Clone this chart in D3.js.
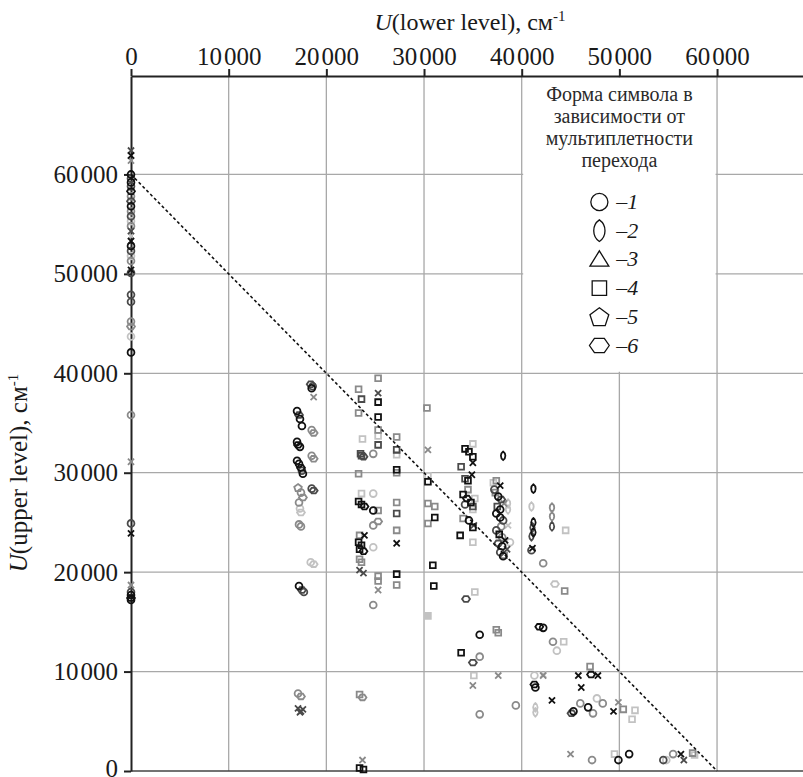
<!DOCTYPE html>
<html>
<head>
<meta charset="utf-8">
<script src="https://cdn.jsdelivr.net/npm/d3@7"></script>
<style>
  body { margin: 0; background: #fff; }
  svg text { font-family: "Liberation Serif", "DejaVu Serif", serif; fill: #1a1a1a; }
</style>
</head>
<body>
<div id="chart"></div>
<script>
const width = 803;
const height = 777;

// tick values of both axes (cm^-1)
const xTicks = [0, 10000, 20000, 30000, 40000, 50000, 60000];
const yTicks = [0, 10000, 20000, 30000, 40000, 50000, 60000];

// legend: symbol shape by multiplicity of the transition
const legendTitle = ["Форма символа в", "зависимости от", "мультиплетности", "перехода"];
const legendShapes = ["c", "e", "t", "s", "p", "h"];
const legendLabels = ["1", "2", "3", "4", "5", "6"];

// points: [lower level, upper level, shape]
// c circle, e ellipse, t triangle, s square, S filled square, p pentagon, h hexagon, x cross
const blackPoints = [
  [0,61900,"x"],[0,60000,"c"],[0,59200,"c"],[0,58300,"h"],[0,56800,"c"],[0,53300,"x"],[0,52800,"c"],
  [0,50400,"x"],[0,42100,"c"],[0,23900,"x"],[0,17700,"c"],[0,17400,"h"],[0,17200,"c"],
  [18500,38500,"c"],[17000,36200,"c"],[17300,35400,"c"],[17500,34700,"c"],[17000,33100,"c"],[17100,32800,"h"],
  [17300,32600,"c"],[17000,31200,"c"],[17200,30900,"c"],[17400,30500,"h"],[17600,29900,"c"],[17200,18600,"c"],
  [25300,37100,"s"],[25300,35600,"s"],[27200,30300,"s"],[23300,27100,"s"],[23600,26800,"s"],[23900,26600,"h"],
  [24800,26200,"c"],[27200,22900,"x"],[23900,23700,"x"],[23300,23000,"s"],[23600,22700,"s"],[23400,22300,"s"],
  [23800,22100,"h"],[27200,19800,"s"],[23400,300,"s"],[23800,150,"s"],
  [30400,29100,"s"],[31100,25500,"s"],[30900,20700,"s"],[31000,18600,"s"],
  [34200,32400,"s"],[34600,32100,"s"],[35000,31600,"s"],[35000,31000,"x"],[34900,29800,"x"],[34500,29200,"s"],
  [34000,27800,"s"],[34400,27400,"h"],[34800,27000,"s"],[34600,25200,"c"],[35000,24500,"s"],[33700,23700,"s"],
  [35700,13700,"c"],[33800,11900,"s"],
  [38100,31700,"e"],[37800,28700,"x"],[37600,27600,"c"],[37800,26300,"c"],[37400,25900,"c"],[37800,25500,"c"],
  [37700,23800,"s"],[38300,23200,"x"],[38000,22600,"c"],[38100,21600,"c"],
  [41200,28400,"e"],[41200,25000,"e"],[41200,24000,"e"],[41100,22400,"x"],[41800,14500,"h"],[42200,14400,"c"],
  [41300,8700,"h"],[41400,8400,"c"],
  [45800,9600,"x"],[47100,9700,"h"],[47800,9600,"x"],[46100,8400,"x"],[43100,7100,"x"],[46800,6400,"c"],
  [49400,6000,"x"],[49900,1100,"c"],[51000,1700,"c"],[56300,1700,"x"],[45300,6000,"c"]
];
const darkPoints = [
  [0,62400,"x"],[0,59600,"c"],[0,58800,"c"],[0,57300,"h"],[0,55800,"c"],[0,54300,"x"],[0,52300,"c"],
  [0,50100,"c"],[0,47900,"c"],[0,47200,"c"],[0,24900,"c"],[0,18000,"c"],
  [18400,38900,"h"],[18600,38700,"c"],[17200,35800,"h"],[17500,30200,"c"],[18500,28400,"c"],[18700,28200,"h"],
  [17500,18200,"h"],[17700,18000,"c"],[17100,6300,"x"],[17400,6000,"x"],[17600,6200,"x"],[17300,5900,"x"],
  [23600,37400,"s"],[25300,38000,"x"],[25300,32800,"s"],[23500,31900,"s"],[23800,31600,"h"],[23600,31700,"s"],
  [27200,32300,"s"],[27200,25900,"s"],[23400,20200,"x"],[23800,19900,"x"],
  [33800,30600,"s"],[34200,29400,"s"],[34200,26800,"c"],[35000,26600,"s"],[35100,24700,"x"],[34300,17300,"h"],
  [35000,10900,"h"],
  [37900,27300,"h"],[37500,26600,"s"],[38100,25200,"c"],[37400,24200,"c"],[37600,22900,"h"],[38500,22300,"x"],
  [37800,22000,"c"],[37200,28300,"c"],
  [41100,24500,"e"],[41000,23600,"e"],[43100,24600,"e"],[41000,22200,"c"],
  [45100,5800,"h"],[54500,1100,"c"],[56600,1100,"x"]
];
const midPoints = [
  [0,61400,"x"],[0,57800,"c"],[0,56300,"c"],[0,54800,"c"],[0,51300,"c"],[0,45200,"c"],[0,44700,"h"],
  [0,35800,"c"],[0,31100,"x"],[0,18700,"x"],
  [18700,37600,"x"],[18500,34300,"c"],[18700,34000,"h"],[18500,31700,"c"],[18700,31400,"h"],[17100,28500,"p"],
  [17400,28000,"c"],[17600,27500,"h"],[17200,27000,"c"],[17200,24800,"c"],[17400,24600,"c"],[17100,7800,"c"],
  [17400,7500,"h"],
  [23300,38400,"s"],[23300,36000,"s"],[25300,39500,"s"],[25300,34300,"s"],[24800,31900,"c"],[27200,33600,"s"],
  [23300,29900,"s"],[25300,26200,"s"],[27200,27000,"s"],[24800,24700,"c"],[25300,25100,"h"],[27200,24200,"s"],
  [23400,23700,"s"],[23400,21300,"s"],[23600,21000,"s"],[25300,19600,"s"],[25300,19100,"s"],[27200,18700,"s"],
  [25300,18200,"x"],[24800,16700,"c"],[23400,7700,"s"],[23700,7400,"h"],[23700,1100,"x"],[27200,30000,"s"],
  [30300,36500,"s"],[30400,32300,"x"],[30400,26900,"s"],[31100,26600,"s"],[30400,24900,"s"],
  [34000,25400,"s"],[34500,28300,"s"],[35700,11500,"c"],[35000,8600,"x"],[35700,5700,"c"],
  [37400,29200,"s"],[37300,28000,"s"],[38200,26900,"x"],[38000,23500,"c"],[38200,21700,"s"],[37400,14200,"s"],
  [37600,13900,"s"],[37600,9600,"x"],[39400,6600,"c"],[37900,24600,"c"],
  [43100,26500,"e"],[43100,25600,"e"],[42200,20900,"c"],[43200,13000,"c"],[44400,18100,"s"],[42200,9600,"x"],
  [47000,10500,"s"],[46000,6800,"c"],[47300,5800,"c"],[48300,6800,"c"],[49900,6900,"x"],[50400,6200,"s"],
  [45000,1700,"x"],[47200,1100,"c"],[55500,1700,"c"],[57500,1800,"s"]
];
const lightPoints = [
  [0,55300,"c"],[0,51800,"c"],[0,43700,"c"],[0,53800,"x"],
  [17300,26400,"c"],[17400,26000,"h"],[18400,21000,"c"],[18700,20800,"h"],
  [23700,33400,"s"],[27200,31800,"s"],[23600,27900,"s"],[24800,27900,"c"],[24800,22500,"c"],[25300,33700,"s"],
  [30400,29700,"s"],[30400,15600,"S"],
  [35000,32900,"s"],[35200,27400,"s"],[35000,26300,"s"],[35000,23000,"s"],[35200,18000,"s"],[35100,9600,"s"],
  [38600,26900,"e"],[38600,26300,"e"],[38600,24700,"x"],[38800,23000,"c"],[37100,29000,"s"],
  [41000,26600,"e"],[44500,24200,"s"],[43400,18800,"h"],[43600,12100,"c"],[44300,13000,"s"],[41300,9600,"c"],
  [41400,6400,"e"],[41400,5900,"e"],
  [47700,7300,"c"],[51300,5200,"s"],[51600,6100,"s"],[49500,1700,"s"],[54800,1100,"c"],[57700,1600,"s"],
  [42200,9700,"x"]
];

const tones = [
  { pts: lightPoints, color: "#c2c2c2" },
  { pts: midPoints, color: "#8a8a8a" },
  { pts: darkPoints, color: "#4a4a4a" },
  { pts: blackPoints, color: "#111" }
];

function shapePath(type, s) {
  if (type === "c") {
    const r = s * 0.95;
    return `M${r},0A${r},${r} 0 1,1 ${-r},0A${r},${r} 0 1,1 ${r},0Z`;
  }
  if (type === "e") {
    const w = 1.25 * s, h = 2.4 * s;
    const sag = w / 2, c = h / 2;
    const r = (c * c + sag * sag) / (2 * sag);
    return `M0,${-c}A${r},${r} 0 0,1 0,${c}A${r},${r} 0 0,1 0,${-c}Z`;
  }
  if (type === "t") {
    return `M0,${-0.95 * s}L${1.05 * s},${0.75 * s}L${-1.05 * s},${0.75 * s}Z`;
  }
  if (type === "s" || type === "S") {
    const a = 0.8 * s;
    return `M${-a},${-a}H${a}V${a}H${-a}Z`;
  }
  if (type === "p") {
    const r = 1.1 * s;
    return "M" + d3.range(5).map((k) => {
      const t = -Math.PI / 2 + k * 2 * Math.PI / 5;
      return [r * Math.cos(t), r * Math.sin(t) + 0.1 * s];
    }).join("L") + "Z";
  }
  if (type === "h") {
    const r = 1.1 * s;
    return "M" + d3.range(6).map((k) => {
      const t = k * Math.PI / 3;
      return [r * Math.cos(t), 0.82 * r * Math.sin(t)];
    }).join("L") + "Z";
  }
  // cross
  const a = 0.85 * s;
  return `M${-a},${-a}L${a},${a}M${a},${-a}L${-a},${a}`;
}

const svg = d3.select("#chart").append("svg")
  .attr("width", width)
  .attr("height", height);

const x = d3.scaleLinear().domain([0, 68800]).range([131, 803]);
const y = d3.scaleLinear().domain([0, 69900]).range([771, 76]);

// grid
svg.append("g").selectAll("line.vg")
  .data(xTicks.slice(1))
  .enter().append("line")
  .attr("x1", (d) => x(d)).attr("x2", (d) => x(d))
  .attr("y1", y(69900)).attr("y2", y(0))
  .attr("stroke", "#a8a8a8").attr("stroke-width", 1.3);

svg.append("g").selectAll("line.hg")
  .data(yTicks.slice(1))
  .enter().append("line")
  .attr("x1", x(0)).attr("x2", width)
  .attr("y1", (d) => y(d)).attr("y2", (d) => y(d))
  .attr("stroke", "#a8a8a8").attr("stroke-width", 1.3);

svg.append("line")
  .attr("x1", x(0)).attr("x2", width)
  .attr("y1", y(0)).attr("y2", y(0))
  .attr("stroke", "#444").attr("stroke-width", 1.6);

// legend box
const lx0 = x(40000) + 1.5, lx1 = x(60000) - 1.5;
svg.append("rect")
  .attr("x", lx0).attr("y", y(69900) + 1.5)
  .attr("width", lx1 - lx0).attr("height", y(40000) - y(69900) - 3)
  .attr("fill", "#fff");

const lcx = (lx0 + lx1) / 2;
svg.append("g").selectAll("text")
  .data(legendTitle)
  .enter().append("text")
  .attr("x", lcx)
  .attr("y", (d, i) => 101 + i * 22)
  .attr("text-anchor", "middle")
  .attr("font-size", 20)
  .style("fill", "#2a2a2a")
  .text((d) => d);

const leg = svg.append("g").selectAll("g")
  .data(legendShapes)
  .enter().append("g")
  .attr("transform", (d, i) => `translate(${lcx - 20},${202 + i * 28.7})`);

leg.append("path")
  .attr("d", (d) => shapePath(d, 9))
  .attr("fill", "none")
  .attr("stroke", "#111")
  .attr("stroke-width", 1.3);

const lt = leg.append("text")
  .attr("x", 17)
  .attr("y", 7)
  .attr("font-size", 22);
lt.append("tspan").text("–");
lt.append("tspan").attr("font-style", "italic").text((d, i) => legendLabels[i]);

// axes
const topAxis = d3.axisTop(x).tickValues(xTicks).tickSize(7).tickSizeOuter(0).tickPadding(4);
const leftAxis = d3.axisLeft(y).tickValues(yTicks).tickSize(7).tickSizeOuter(0).tickPadding(6);

const gx = svg.append("g").attr("transform", `translate(0,${y(69900)})`).call(topAxis);
const gy = svg.append("g").attr("transform", `translate(${x(0)},0)`).call(leftAxis);

[gx, gy].forEach((g) => {
  g.attr("font-family", null);
  g.select(".domain").attr("stroke", "#222").attr("stroke-width", 2);
  g.selectAll(".tick line").attr("stroke", "#222").attr("stroke-width", 2);
  const t = g.selectAll(".tick text")
    .style("font-family", "'Liberation Serif', serif")
    .style("font-size", "25px")
    .style("fill", "#1a1a1a")
    .text(null);
  // thousands separated by a narrow gap
  t.append("tspan").text((d) => d >= 10000 ? String(Math.floor(d / 1000)) : String(d));
  t.filter((d) => d >= 10000).append("tspan").attr("dx", 2).text("000");
});

// keep the bottom "0" label inside the picture
gy.selectAll(".tick text").filter((d) => d === 0).attr("dy", "0.2em");

// points
tones.forEach((tone) => {
  svg.append("g").selectAll("path")
    .data(tone.pts)
    .enter().append("path")
    .attr("transform", (d) => `translate(${x(d[0])},${y(d[1])})`)
    .attr("d", (d) => shapePath(d[2], 3.6))
    .attr("fill", (d) => d[2] === "S" ? tone.color : "none")
    .attr("stroke", tone.color)
    .attr("stroke-width", 1.8);
});

// U(lower) + U(upper) = 60000 line
svg.append("line")
  .attr("x1", x(0)).attr("y1", y(60000))
  .attr("x2", x(60000)).attr("y2", y(0))
  .attr("stroke", "#111")
  .attr("stroke-width", 1.6)
  .attr("stroke-dasharray", "3,2.5");

// axis titles
function axisTitle(g, word) {
  g.append("tspan").attr("font-style", "italic").text("U");
  g.append("tspan").text(`(${word} level), см`);
  g.append("tspan").attr("font-size", 15).attr("dy", -9).text("-1");
}

const tx = svg.append("text")
  .attr("x", 470).attr("y", 30)
  .attr("text-anchor", "middle")
  .attr("font-size", 24);
axisTitle(tx, "lower");

const ty = svg.append("text")
  .attr("transform", "translate(27,473) rotate(-90)")
  .attr("text-anchor", "middle")
  .attr("font-size", 25);
axisTitle(ty, "upper");
</script>
</body>
</html>
